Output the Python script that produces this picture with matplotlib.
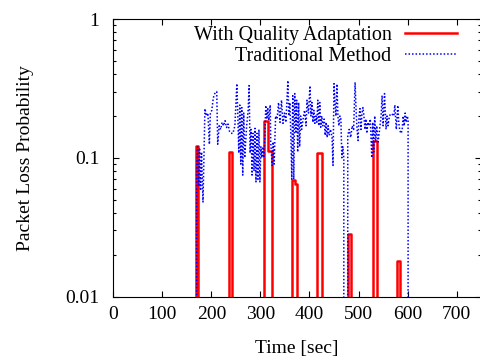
import matplotlib
matplotlib.use('Agg')
import matplotlib.pyplot as plt
from matplotlib.ticker import LogLocator, NullFormatter, FixedLocator

plt.rcParams['font.family'] = ['Liberation Serif', 'DejaVu Serif']
plt.rcParams['font.size'] = 14

# Traditional Method: packet loss probability over time (0 = no loss)
trad_t = [170, 170, 172, 174, 176, 178, 180, 183, 187, 190, 193, 196, 198, 201, 204, 207,
          211, 213, 216, 219, 222, 225, 228, 231, 234, 237, 240, 244, 248, 252, 254, 256,
          258, 260, 262, 264, 266, 268, 272, 275, 277, 279, 281, 283, 285, 287, 289, 291,
          293, 295, 297, 299, 301, 303, 305, 307, 309, 311, 313, 315, 317, 320, 321, 324,
          326, 328, 331, 334, 337, 340, 343, 346, 349, 352, 356, 358, 360, 362, 364, 366,
          368, 370, 372, 374, 376, 378, 380, 382, 384, 387, 390, 393, 395, 398, 401, 403,
          405, 407, 409, 411, 413, 415, 417, 419, 421, 423, 425, 427, 430, 432, 434, 436,
          438, 440, 443, 446, 448, 450, 452, 454, 456, 458, 460, 462, 464, 466, 468, 470,
          472, 478, 481, 484, 487, 490, 493, 495, 497, 499, 501, 503, 505, 507, 509, 511,
          513, 515, 517, 519, 521, 524, 527, 529, 531, 533, 535, 537, 540, 543, 546, 548,
          550, 553, 556, 558, 560, 563, 566, 569, 572, 574, 577, 580, 582, 584, 587, 589,
          591, 593, 595, 597, 599, 601, 601]
trad_v = [0, 0.083, 0.12, 0.062, 0.118, 0.058, 0.11, 0.048, 0.226, 0.20, 0.21, 0.125, 0.21, 0.22, 0.27, 0.29,
          0.30, 0.125, 0.17, 0.16, 0.18, 0.17, 0.185, 0.165, 0.175, 0.155, 0.15, 0.15, 0.17, 0.342, 0.20, 0.108,
          0.24, 0.09, 0.23, 0.075, 0.21, 0.10, 0.17, 0.22, 0.331, 0.108, 0.16, 0.075, 0.15, 0.08, 0.163, 0.067,
          0.15, 0.07, 0.16, 0.067, 0.12, 0.10, 0.12, 0.10, 0.14, 0.238, 0.19, 0.23, 0.186, 0.24, 0.13, 0.088,
          0.13, 0.09, 0.2, 0.19, 0.25, 0.18, 0.26, 0.177, 0.21, 0.18, 0.36, 0.2, 0.25, 0.15, 0.07, 0.28,
          0.07, 0.29, 0.15, 0.26, 0.11, 0.25, 0.12, 0.2, 0.16, 0.19, 0.22, 0.17, 0.26, 0.21, 0.33, 0.2,
          0.25, 0.18, 0.22, 0.177, 0.2, 0.18, 0.26, 0.17, 0.25, 0.166, 0.2, 0.17, 0.19, 0.145, 0.18, 0.14,
          0.17, 0.145, 0.16, 0.14, 0.088, 0.342, 0.25, 0.2, 0.34, 0.2, 0.17, 0.2, 0.19, 0.10, 0.12, 0.10,
          0, 0.145, 0.16, 0.14, 0.17, 0.16, 0.35, 0.22, 0.16, 0.133, 0.2, 0.226, 0.16, 0.21, 0.23, 0.2,
          0.16, 0.19, 0.15, 0.18, 0.17, 0.19, 0.1, 0.18, 0.11, 0.2, 0.13, 0.17, 0.13, 0.16, 0.2, 0.281,
          0.17, 0.29, 0.16, 0.2, 0.17, 0.2, 0.208, 0.205, 0.2, 0.24, 0.16, 0.238, 0.18, 0.157, 0.15, 0.16,
          0.2, 0.17, 0.21, 0.18, 0.2, 0.19, 0]

# With Quality Adaptation: step values (0 = no loss)
qa_t = [0, 168, 173.4, 236, 241.5, 308, 314.5, 323, 363.8, 369.5, 375.2, 416, 426,
        478, 484, 530, 537, 577.8, 583.5, 750]
qa_v = [0, 0.121, 0, 0.110, 0, 0.183, 0.111, 0, 0.069, 0.065, 0, 0.109, 0,
        0.028, 0, 0.133, 0, 0.018, 0, 0]

x_ticks = [0, 100, 200, 300, 400, 500, 600, 700]

fig = plt.figure(figsize=(4.8, 3.61), dpi=100)
ax = fig.add_axes([113.2 / 480, 64.5 / 361, 368 / 480, 277.5 / 361])

ax.plot(qa_t, qa_v, drawstyle='steps-post', color='#ff0000', lw=1.8,
        label='With Quality Adaptation')
ax.plot(trad_t, trad_v, color='#0000ff', lw=1.1, linestyle=(0, (1, 1.3)),
        label='Traditional Method')

ax.set_yscale('log')
ax.set_ylim(0.01, 1)
ax.set_xlim(0, 750)
ax.xaxis.set_major_locator(FixedLocator(x_ticks))
ax.set_yticks([0.01, 0.1, 1])
ax.set_yticklabels(['0.01', '0.1', '1'])
ax.yaxis.set_minor_locator(LogLocator(base=10, subs=range(2, 10)))
ax.yaxis.set_minor_formatter(NullFormatter())

ax.tick_params(which='both', direction='in', top=True, right=True, width=0.8)
ax.tick_params(which='major', length=4)
ax.tick_params(which='minor', length=2)
ax.tick_params(axis='x', which='major', pad=7)
ax.tick_params(axis='y', which='major', pad=10)

ax.set_xlabel('Time [sec]')
ax.set_ylabel('Packet Loss Probability')
ax.xaxis.set_label_coords(0.5, -0.155)
ax.yaxis.set_label_coords(-0.215, 0.5)

ax.legend(loc='upper right', bbox_to_anchor=(0.934, 0.975), frameon=False,
          markerfirst=False, handlelength=2.6, handletextpad=0.65,
          labelspacing=0.1, borderpad=0, borderaxespad=0, fontsize=14.5)

fig.savefig('out.png', dpi=100)
